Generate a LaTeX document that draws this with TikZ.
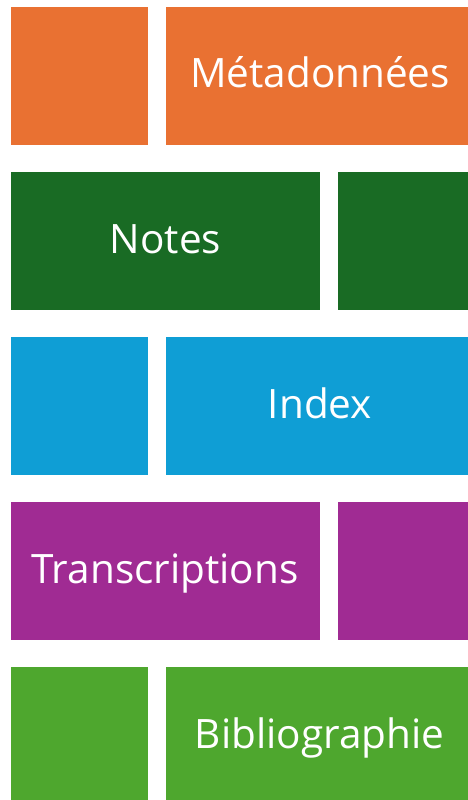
\documentclass[tikz,border=0pt]{standalone}
\usepackage{fontspec}
\setmainfont{Open Sans}
\definecolor{cOrange}{HTML}{E97132}
\definecolor{cDarkGreen}{HTML}{196B24}
\definecolor{cBlue}{HTML}{0F9ED5}
\definecolor{cPurple}{HTML}{A02B93}
\definecolor{cGreen}{HTML}{4EA72E}
\tikzset{
  block/.style={anchor=north west, inner sep=0pt, outer sep=0pt, minimum height=138pt},
  label/.style={anchor=base, text=white, inner sep=0pt, font=\fontsize{40.5}{48}\selectfont},
}
\begin{document}
\begin{tikzpicture}[x=1pt,y=-1pt]
\useasboundingbox (0,0) rectangle (468,800);
% row 1
\node[block, fill=cOrange, minimum width=136.7pt] (r1a) at (11,7.3) {};
\node[block, fill=cOrange, minimum width=302.3pt] (r1b) at (165.7,7.3) {};
\node[label] (t1) at (320,88) {Métadonnées};
% row 2
\node[block, fill=cDarkGreen, minimum width=309.3pt] (r2a) at (11,172.3) {};
\node[block, fill=cDarkGreen, minimum width=129.7pt] (r2b) at (338.3,172.3) {};
\node[label] (t2) at (165.5,253) {Notes};
% row 3
\node[block, fill=cBlue, minimum width=136.7pt] (r3a) at (11,337.3) {};
\node[block, fill=cBlue, minimum width=302.3pt] (r3b) at (165.7,337.3) {};
\node[label] (t3) at (320,418) {Index};
% row 4
\node[block, fill=cPurple, minimum width=309.3pt] (r4a) at (11,502.3) {};
\node[block, fill=cPurple, minimum width=129.7pt] (r4b) at (338.3,502.3) {};
\node[label] (t4) at (165,583) {Transcriptions};
% row 5
\node[block, fill=cGreen, minimum width=136.7pt, minimum height=132.7pt] (r5a) at (11,667.3) {};
\node[block, fill=cGreen, minimum width=302.3pt, minimum height=132.7pt] (r5b) at (165.7,667.3) {};
\node[label] (t5) at (319.5,748) {Bibliographie};
\end{tikzpicture}
\end{document}
